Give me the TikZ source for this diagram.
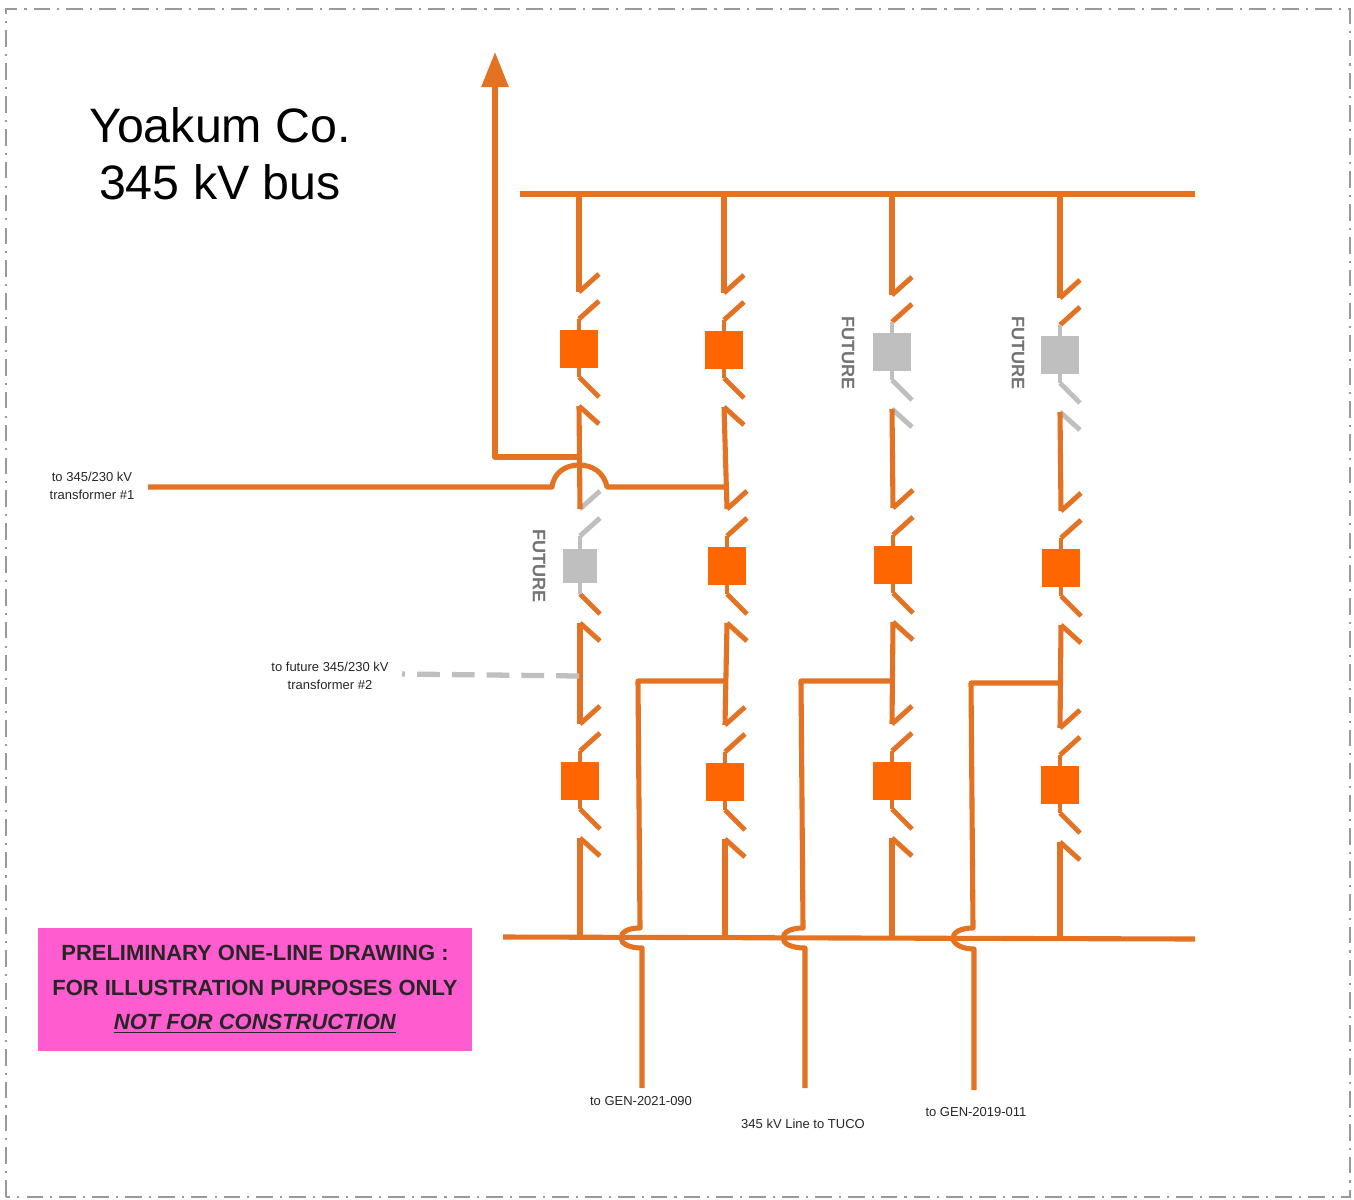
\documentclass[tikz,border=0pt]{standalone}
\usepackage{fontspec}
\setmainfont{Liberation Sans}
\usepackage{tikz}
\usetikzlibrary{arrows.meta}
\definecolor{wirecol}{HTML}{E37222}
\definecolor{brkcol}{HTML}{FF6600}
\definecolor{sparecol}{HTML}{BFBFBF}
\definecolor{notecol}{HTML}{FF5CD0}
\tikzset{
  wire/.style={draw=wirecol,line width=2.9pt,line join=round},
  spare/.style={draw=sparecol,line width=2.8pt,line join=round},
  blade/.style={draw=wirecol,line width=2.8pt,line join=round},
  breaker/.style={fill=brkcol,inner sep=0pt,minimum size=21.5pt},
  sparebrk/.style={fill=sparecol,inner sep=0pt,minimum size=21.5pt},
  smallbrk/.style={fill=sparecol,inner sep=0pt,minimum size=19pt},
  small/.style={font=\fontsize{7.4}{10.6}\selectfont,align=center,text=black!85,inner sep=0pt},
  future/.style={font=\fontsize{10.3}{11}\selectfont\bfseries,text=black!55,rotate=-90,inner sep=0pt}
}
\newcommand{\bay}[7]{%
\begin{scope}[shift={(#2,#3)}]
\coordinate(#1-in)at(0,-57);
\coordinate(#1-out)at(0,57);
\draw[#6](#1-in)--(20,-75);
\draw[#6](20,-48)--(0,-30);
\draw[#7](0,28)--(20,48);
\draw[#7](#1-out)--(20,75);
\draw[#5](0,-30)--(0,28);
\node[#4](#1)at(0,0){};
\end{scope}}
\begin{document}
\begin{tikzpicture}[x=0.02cm,y=-0.02cm]
\useasboundingbox(0,0)rectangle(1354,1199);
\draw[gray!80,line width=1pt,dash pattern=on 9.5pt off 4pt on 1.2pt off 4pt](6,1197)--(6,9)--(1350,9)--(1350,1197)--cycle;
\coordinate(topl)at(520,194);
\coordinate(topr)at(1195,194);
\coordinate(botl)at(503,937);
\coordinate(botr)at(1195,939);
\draw[wire](topl)--(topr);
\draw[wire](botl)--(botr);
\bay{a1}{579}{349}{breaker}{blade}{blade}{blade}
\bay{a2}{580}{566}{smallbrk}{spare}{spare}{blade}
\bay{a3}{580}{781}{breaker}{blade}{blade}{blade}
\bay{b1}{724}{350}{breaker}{blade}{blade}{blade}
\bay{b2}{727}{566}{breaker}{blade}{blade}{blade}
\bay{b3}{725}{782}{breaker}{blade}{blade}{blade}
\bay{c1}{892}{352}{sparebrk}{spare}{blade}{spare}
\bay{c2}{893}{565}{breaker}{blade}{blade}{blade}
\bay{c3}{892}{781}{breaker}{blade}{blade}{blade}
\bay{d1}{1060}{355}{sparebrk}{spare}{blade}{spare}
\bay{d2}{1061}{568}{breaker}{blade}{blade}{blade}
\bay{d3}{1060}{785}{breaker}{blade}{blade}{blade}
\foreach \col in {a,b,c,d}{
\draw[wire](\col1-in|-topl)--(\col1-in);
\draw[wire](\col1-out)--(\col2-in);
\draw[wire](\col2-out)--(\col3-in);
\draw[wire](\col3-out)--(\col3-out|-botl);
}
\coordinate(up)at(495,52);
\coordinate(tfa)at(148,487);
\coordinate(tfb)at(402,674);
\coordinate(tapb)at(726,487);
\coordinate(tapa)at(579,457);
\coordinate(feeda)at(642,1088);
\coordinate(feedb)at(805,1088);
\coordinate(feedc)at(974,1090);
\draw[wire,-{Triangle[length=20pt,width=15pt]}](tapa)--(495,457)--(up);
\draw[wire](tfa)--(552,487).. controls (554,472) and (566,465) .. (579,465).. controls (592,465) and (604,472) .. (607,487)--(tapb);
\draw[spare,line width=3pt,dash pattern=on 13pt off 6.8pt](579,676)--(tfb);
\draw[wire](726,681)--(638,681)--(640,928).. controls (628,928) and (621,932) .. (621,938).. controls (621,944) and (630,948) .. (642,948)--(feeda);
\draw[wire](892,681)--(801,681)--(803,928).. controls (791,928) and (783,932) .. (783,938).. controls (783,944) and (792,948) .. (805,948)--(feedb);
\draw[wire](1060,683)--(971,683)--(973,928).. controls (961,928) and (953,932) .. (953,938).. controls (953,944) and (962,949) .. (974,949)--(feedc);
\node[font=\fontsize{27.5}{32.3}\selectfont,align=center,inner sep=0pt](title)at(220,154){Yoakum Co.\\345 kV bus};
\node[fill=notecol,minimum width=246.5pt,minimum height=70.5pt,inner sep=0pt,align=center,font=\fontsize{12.5}{19.6}\selectfont\bfseries,text=black!85](note)at(255,989.5){PRELIMINARY ONE-LINE DRAWING :\\FOR ILLUSTRATION PURPOSES ONLY\\\underline{\textit{NOT FOR CONSTRUCTION}}};
\node[small](tfalab)at(92,486){to 345/230 kV\\transformer \#1};
\node[small](tfblab)at(330,676){to future 345/230 kV\\transformer \#2};
\node[small](gena)at(641,1101){to GEN-2021-090};
\node[small](linelab)at(803,1124){345 kV Line to TUCO};
\node[small](genb)at(976,1112){to GEN-2019-011};
\node[future](fa)at(539,566){FUTURE};
\node[future](fc)at(848,353){FUTURE};
\node[future](fd)at(1018,353){FUTURE};
\end{tikzpicture}
\end{document}
